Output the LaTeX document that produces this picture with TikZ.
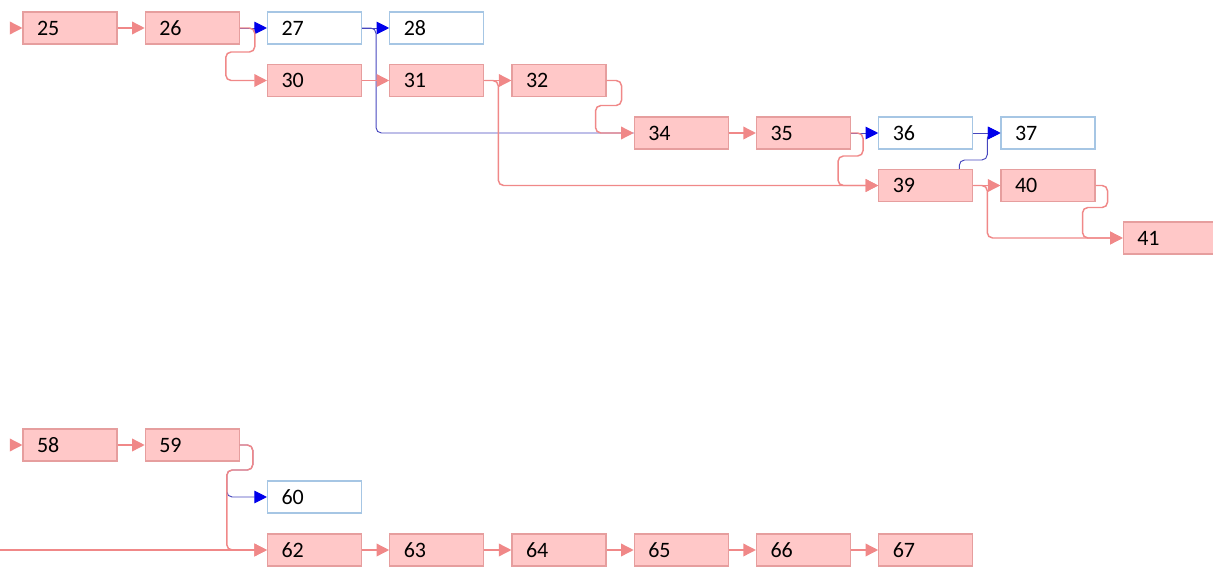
\documentclass[tikz,border=0pt]{standalone}
\usepackage{fontspec}
\setmainfont{Carlito}
\usetikzlibrary{arrows.meta}
\definecolor{boxpink}{RGB}{255,200,200}
\definecolor{edgepink}{RGB}{230,158,158}
\definecolor{linkpink}{RGB}{240,136,136}
\definecolor{edgeblue}{RGB}{166,198,228}
\definecolor{linkblue}{RGB}{70,70,190}
\definecolor{headblue}{RGB}{0,0,235}
\begin{document}
\begin{tikzpicture}[x=.75pt,y=-.75pt,
    task/.style={draw=edgepink,fill=boxpink,line width=.8pt,minimum height=24pt,
      text width=49.5pt,inner xsep=10.5pt,inner ysep=0pt,align=left,
      font=\fontsize{16.5}{19}\selectfont},
    done/.style={task,draw=edgeblue,fill=white},
    plink/.style={linkpink,line width=1.1pt,rounded corners=4pt,
      -{Triangle[length=9.5pt,width=9.5pt]}},
    blink/.style={linkblue,line width=.7pt,rounded corners=4pt,
      -{Triangle[length=9.5pt,width=9.5pt,color=headblue]}}]
      \useasboundingbox (0,0) rectangle (1213,567);
      % upper chain
      \node[task] (n25) at (70,28) {25};
      \node[task] (n26) at (192.25,28) {26};
      \node[done] (n27) at (314.5,28) {27};
      \node[done] (n28) at (436.75,28) {28};
      \node[task] (n30) at (314.5,80.5) {30};
      \node[task] (n31) at (436.75,80.5) {31};
      \node[task] (n32) at (559,80.5) {32};
      \node[task] (n34) at (681.25,133) {34};
      \node[task] (n35) at (803.5,133) {35};
      \node[done] (n36) at (925.75,133) {36};
      \node[done] (n37) at (1048,133) {37};
      \node[task] (n39) at (925.75,185.5) {39};
      \node[task] (n40) at (1048,185.5) {40};
      \node[task] (n41) at (1170.25,238) {41};
      \coordinate (in25) at (10,28);
      \draw[plink] (in25) -- (n25);
      \draw[plink] (n25) -- (n26);
      \draw[blink] (n26.east) -- (n27.west);
      \draw[plink] (n26.east) -- ++(15,0) -- ++(0,24) -- ++(-29,0) |- (n30.west);
      \draw[blink] (n27.east) -- (n28.west);
      \draw[linkblue,line width=.7pt,rounded corners=4pt] (n27.east) -- ++(14,0) |- (n34.west);
      \draw[plink] (n30) -- (n31);
      \draw[plink] (n31.east) -- (n32.west);
      \draw[plink] (n31.east) -- ++(14,0) |- (n39.west);
      \draw[plink] (n32.east) -- ++(15,0) -- ++(0,25) -- ++(-26,0) |- (n34.west);
      \draw[plink] (n34) -- (n35);
      \draw[blink] (n35.east) -- (n36.west);
      \draw[plink] (n35.east) -- ++(12,0) -- ++(0,23) -- ++(-25,0) |- (n39.west);
      \draw[blink] (n36.east) -- (n37.west);
      \draw[blink] ([xshift=-10.5pt]n39.north east) -- ++(0,-9) -- ++(28,0) |- (n37.west);
      \draw[plink] (n39.east) -- (n40.west);
      \draw[plink] (n39.east) -- ++(14,0) |- (n41.west);
      \draw[plink] (n40.east) -- ++(12,0) -- ++(0,22) -- ++(-25,0) |- (n41.west);
      % lower chain
      \node[task] (n58) at (70,445) {58};
      \node[task] (n59) at (192.25,445) {59};
      \node[done] (n60) at (314.5,497) {60};
      \node[task] (n62) at (314.5,550) {62};
      \node[task] (n63) at (436.75,550) {63};
      \node[task] (n64) at (559,550) {64};
      \node[task] (n65) at (681.25,550) {65};
      \node[task] (n66) at (803.5,550) {66};
      \node[task] (n67) at (925.75,550) {67};
      \coordinate (in58) at (10,445);
      \coordinate (in62) at (0,550);
      \draw[plink] (in58) -- (n58);
      \draw[plink] (n58) -- (n59);
      \draw[blink] (n59.east) -- ++(13,0) -- ++(0,25) -- ++(-26,0) |- (n60.west);
      \draw[plink] (n59.east) -- ++(13,0) -- ++(0,25) -- ++(-26,0) |- (n62.west);
      \draw[plink] (in62) -- (n62);
      \draw[plink] (n62) -- (n63);
      \draw[plink] (n63) -- (n64);
      \draw[plink] (n64) -- (n65);
      \draw[plink] (n65) -- (n66);
      \draw[plink] (n66) -- (n67);
    \end{tikzpicture}
\end{document}
